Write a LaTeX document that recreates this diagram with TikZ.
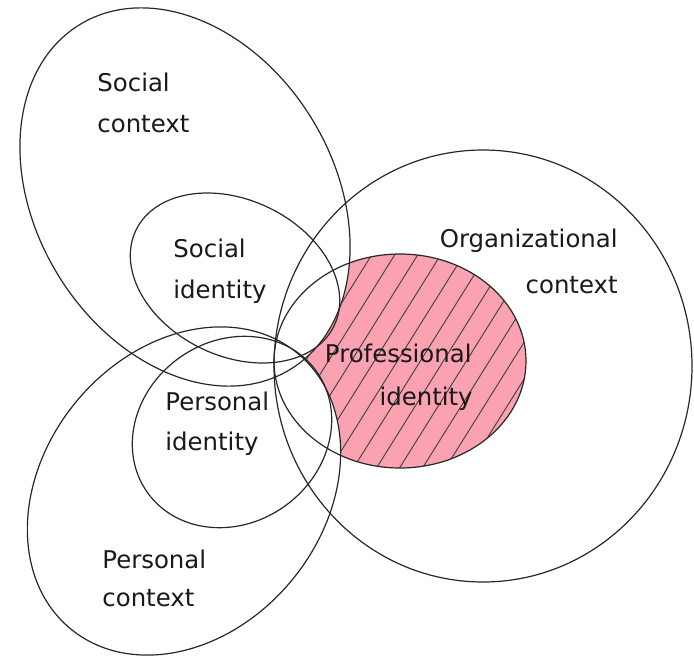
\documentclass[tikz,border=0pt]{standalone}
\usepackage{fontspec}
\setmainfont{DejaVu Sans}
\definecolor{profpink}{RGB}{250,162,177}
\definecolor{linegray}{RGB}{40,40,40}
\definecolor{textgray}{RGB}{25,25,25}
\begin{document}
\begin{tikzpicture}[x=0.5pt,y=-0.5pt,
  outline/.style={draw=linegray,line width=0.6pt},
  hatchline/.style={draw=linegray!90,line width=0.45pt},
  lbl/.style={inner sep=0pt,text=textgray,font=\fontsize{12.2}{14}\selectfont}]
\useasboundingbox[fill=white] (0,0) rectangle (694,657);
% pink hatched professional identity
\begin{scope}
  \clip (400,361) ellipse (126 and 107);
  \fill[profpink] (400,361) ellipse (126 and 107);
  \foreach \k in {-8,...,13} {
    \draw[hatchline] ({329+23*\k-75},480) -- ({329+23*\k+75},240);
  }
\end{scope}
% contexts erase the pink where they overlap
\fill[white,rotate around={-58.6:(185,197)}] (185,197) ellipse (202 and 149);
\fill[white,rotate around={50.6:(184,491)}] (184,491) ellipse (178.5 and 140);
% outlines
\draw[outline,rotate around={-58.6:(185,197)}] (185,197) ellipse (202 and 149);
\draw[outline,rotate around={-25.8:(235,278)}] (235,278) ellipse (110 and 78);
\draw[outline,rotate around={36:(232,432)}] (232,432) ellipse (104 and 91);
\draw[outline,rotate around={50.6:(184,491)}] (184,491) ellipse (178.5 and 140);
\draw[outline] (483,366) ellipse (209 and 216);
\draw[outline] (400,361) ellipse (126 and 107);
% labels
\node[lbl,anchor=base west] (sc1) at (97,92) {Social};
\node[lbl,anchor=base west] (sc2) at (97,133) {context};
\node[lbl,anchor=base west] (si1) at (173,257) {Social};
\node[lbl,anchor=base west] (si2) at (173,298) {identity};
\node[lbl,anchor=base east] (oc1) at (618,248) {Organizational};
\node[lbl,anchor=base east] (oc2) at (618,293) {context};
\node[lbl,anchor=base east] (pi1) at (472,362) {Professional};
\node[lbl,anchor=base east] (pi2) at (473,405) {identity};
\node[lbl,anchor=base west] (pe1) at (165,410) {Personal};
\node[lbl,anchor=base west] (pe2) at (165,450) {identity};
\node[lbl,anchor=base west] (pc1) at (102,568) {Personal};
\node[lbl,anchor=base west] (pc2) at (102,606) {context};
\end{tikzpicture}
\end{document}
